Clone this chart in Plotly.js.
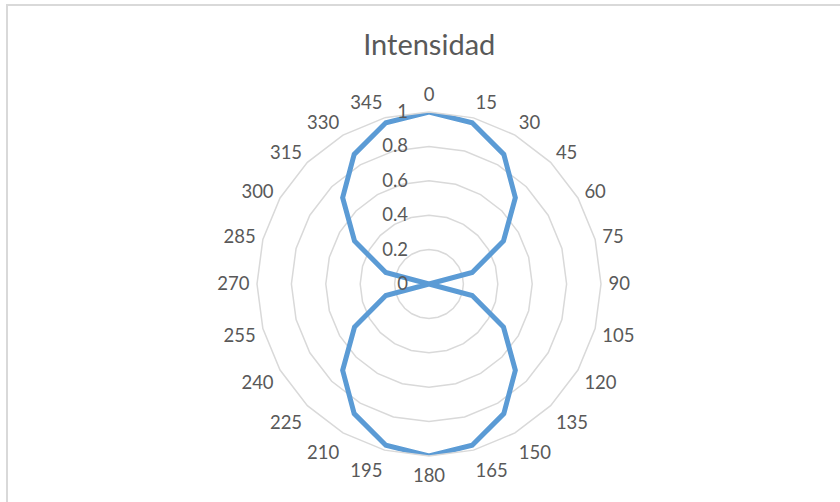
<!DOCTYPE html>
<html>
<head>
<meta charset="utf-8">
<script src="https://cdn.plot.ly/plotly-3.0.1.min.js"></script>
<style>
  html, body { margin: 0; padding: 0; background: #fff; }
  #plot { width: 840px; height: 502px; }
</style>
</head>
<body>
<div id="plot"></div>
<script>
// angulos del polarizador (grados) y la intensidad leida
const angulos = ['0', '15', '30', '45', '60', '75', '90', '105', '120', '135', '150', '165',
                 '180', '195', '210', '225', '240', '255', '270', '285', '300', '315', '330', '345']
const intensidad = [1, 0.97, 0.87, 0.71, 0.5, 0.26, 0, 0.26, 0.5, 0.71, 0.87, 0.97,
                    1, 0.97, 0.87, 0.71, 0.5, 0.26, 0, 0.26, 0.5, 0.71, 0.87, 0.97]

const gris = '#d9d9d9'
const texto = '#595959'
const fuente = 'Lato, "Open Sans", sans-serif'

// cerrar el poligono volviendo al primer punto
const theta = angulos.concat([angulos[0]])
const r = intensidad.concat([intensidad[0]])

const data = [{
  type: 'scatterpolar',
  theta: theta,
  r: r,
  mode: 'lines',
  line: { color: '#5b9bd5', width: 5 },
  hoverinfo: 'theta+r'
}]

const W = 840, H = 502
const cx = 429, cy = 284, rad = 172

const layout = {
  width: W,
  height: H,
  margin: { l: 0, r: 0, t: 0, b: 0 },
  paper_bgcolor: '#fff',
  showlegend: false,
  title: {
    text: 'Intensidad',
    font: { family: fuente, size: 29, color: texto },
    x: 0.511,
    xanchor: 'center',
    y: 1 - 45 / H,
    yanchor: 'middle'
  },
  font: { family: fuente, size: 18, color: texto },
  polar: {
    domain: {
      x: [(cx - rad) / W, (cx + rad) / W],
      y: [(H - cy - rad) / H, (H - cy + rad) / H]
    },
    bgcolor: '#fff',
    gridshape: 'linear',
    angularaxis: {
      type: 'category',
      categoryarray: angulos,
      rotation: 90,
      direction: 'clockwise',
      showgrid: false,
      showline: true,
      linecolor: gris,
      linewidth: 1.5,
      ticks: 'outside',
      ticklen: 3,
      tickcolor: 'rgba(0,0,0,0)',
      tickfont: { family: fuente, size: 18.5, color: texto }
    },
    radialaxis: {
      range: [0, 1],
      dtick: 0.2,
      angle: 90,
      tickangle: 90,
      side: 'counterclockwise',
      showline: false,
      ticks: 'outside',
      ticklen: 14,
      tickcolor: 'rgba(0,0,0,0)',
      gridcolor: gris,
      gridwidth: 1.5,
      tickfont: { family: fuente, size: 18.5, color: texto }
    }
  },
  shapes: [{
    type: 'rect',
    xref: 'paper', yref: 'paper',
    x0: 7 / W, x1: 1.1,
    y0: -0.1, y1: 1 - 5 / H,
    line: { color: gris, width: 2 }
  }]
}

Plotly.newPlot('plot', data, layout, { displayModeBar: false, staticPlot: true })
</script>
</body>
</html>
